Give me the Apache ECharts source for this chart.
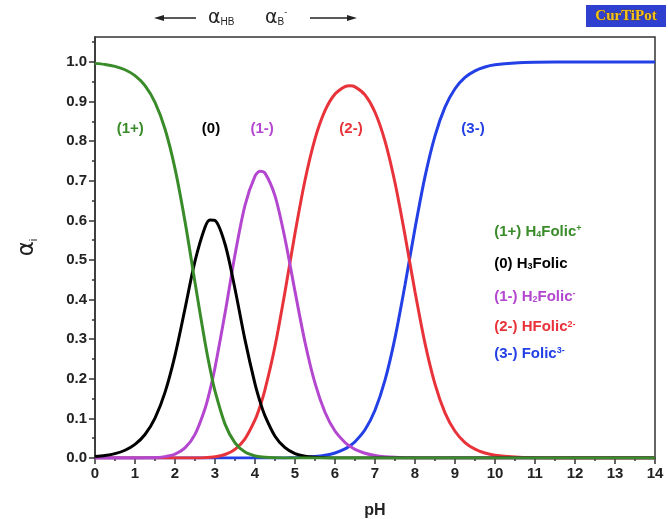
<!DOCTYPE html>
<html>
<head>
<meta charset="utf-8">
<script src="https://cdn.jsdelivr.net/npm/echarts@6/dist/echarts.min.js"></script>
<style>html,body{margin:0;padding:0;background:#fff;}#c{width:668px;height:519px;}</style>
</head>
<body>
<div id="c"></div>
<script>
const pH = [0,0.25,0.5,0.75,1,1.25,1.5,1.75,2,2.25,2.5,2.75,2.875,3,3.25,3.5,3.75,4,4.125,4.25,4.5,4.75,5,5.25,5.5,5.75,6,6.25,6.375,6.5,6.75,7,7.25,7.5,7.75,8,8.25,8.5,8.75,9,9.25,9.5,9.75,10,10.5,11,12,13,14];
const a1plus = [0.9965,0.9937,0.9889,0.9804,0.9656,0.9403,0.8980,0.8307,0.7308,0.5975,
 0.4430,0.2920,0.2259,0.1691,0.0856,0.0380,0.0150,0.0053,0.0030,0.0017,0.0005,0.0001,
 0,0,0,0,0,0,0,0,0,0,0,0,0,0,0,0,0,0,0,0,0,0,0,0,0,0,0];
const a0 = [0.0035,0.0063,0.0111,0.0196,0.0343,0.0593,0.1008,0.1657,0.2593,0.3770,
 0.4970,0.5825,0.6010,0.5998,0.5403,0.4269,0.2984,0.1872,0.1428,0.1064,0.0551,0.0259,
 0.0111,0.0043,0.0016,0.0005,0.0002,0,0,0,0,0,0,0,0,0,0,0,0,0,0,0,0,0,0,0,0,0,0];
const a1minus = [0,0,0,0,0.0001,0.0004,0.0012,0.0035,0.0099,0.0255,
 0.0598,0.1246,0.1713,0.2281,0.3653,0.5132,0.6382,0.7116,0.7239,0.7194,0.6620,0.5537,
 0.4207,0.2924,0.1889,0.1156,0.0681,0.0391,0.0294,0.0220,0.0121,0.0065,0.0033,
 0.0016,0.0007,0.0003,0,0,0,0,0,0,0,0,0,0,0,0,0];
const a2minus = [0,0,0,0,0,0,0,0,0,0.0001,
 0.0003,0.0009,0.0017,0.0031,0.0088,0.0219,0.0484,0.0960,0.1302,0.1725,0.2823,0.4200,
 0.5675,0.7015,0.8060,0.8770,0.9190,0.9378,0.9399,0.9371,0.9168,0.8731,0.8002,
 0.6950,0.5626,0.4200,0.2894,0.1864,0.1141,0.0676,0.0391,0.0224,0.0127,
 0.0072,0.0023,0.0007,0.0001,0,0];
const a3minus = [0,0,0,0,0,0,0,0,0,0,
 0,0,0,0,0,0,0,0,0,0,0.0001,0.0003,
 0.0008,0.0017,0.0035,0.0068,0.0127,0.0230,0.0308,0.0409,0.0712,0.1205,0.1964,
 0.3034,0.4367,0.5797,0.7105,0.8136,0.8859,0.9324,0.9609,0.9776,0.9873,
 0.9928,0.9977,0.9993,0.9999,1,1];
const yMajor = [0,0.1,0.2,0.3,0.4,0.5,0.6,0.7,0.8,0.9,1.0];
const yMinor = [0.05,0.15,0.25,0.35,0.45,0.55,0.65,0.75,0.85,0.95,1.05];

const COL = {g:'#3a8c2a', k:'#000000', p:'#b447cf', r:'#e8333a', b:'#2340e6'};
const FF = '"Liberation Sans", Arial, sans-serif';
const YMAX = 1.0631;

function pairs(ys){ return pH.map((x,i)=>[x, ys[i]]); }
function ser(name, ys, color){
  return {name, type:'line', data:pairs(ys), smooth:0.3, showSymbol:false, symbol:'none',
    lineStyle:{color, width:3}, itemStyle:{color}, z:2};
}

const chart = echarts.init(document.getElementById('c'), null, {renderer:'canvas'});
chart.setOption({
  animation:false,
  backgroundColor:'#fff',
  grid:{left:95, right:13, top:37, bottom:61, containLabel:false, outerBoundsMode:'none', show:true, borderColor:'#333', borderWidth:1.5, backgroundColor:'transparent'},
  xAxis:{type:'value', min:0, max:14, interval:1,
    name:'pH', nameLocation:'middle', nameGap:45,
    nameTextStyle:{fontFamily:FF, fontWeight:'bold', fontSize:16, color:'#222'},
    axisLine:{lineStyle:{color:'#333', width:1.5}},
    axisTick:{length:6, lineStyle:{color:'#333', width:1.5}},
    minorTick:{show:true, splitNumber:2, length:3, lineStyle:{color:'#333', width:1.5}},
    axisLabel:{fontFamily:FF, fontWeight:'bold', fontSize:15, color:'#222', margin:8},
    splitLine:{show:false}},
  yAxis:[{type:'value', min:0, max:YMAX, position:'left',
    name:'{a|α}{s|i}', nameLocation:'middle', nameGap:56,
    nameTextStyle:{rich:{a:{fontFamily:'"DejaVu Sans", sans-serif', fontSize:23, color:'#222'}, s:{fontFamily:FF, fontSize:11, color:'#222', verticalAlign:'bottom', padding:[8,0,0,0]}}},
    axisLine:{show:true, lineStyle:{color:'#333', width:1.5}},
    axisTick:{show:true, length:6, customValues:yMajor, lineStyle:{color:'#333', width:1.5}},
    axisLabel:{customValues:yMajor, fontFamily:FF, fontWeight:'bold', fontSize:15, color:'#222', margin:8, formatter:v=>Number(v).toFixed(1)},
    splitLine:{show:false}},
   {type:'value', min:0, max:YMAX, position:'left', axisLine:{show:false},
    axisTick:{show:true, length:3, customValues:yMinor, lineStyle:{color:'#333', width:1.5}},
    axisLabel:{show:false}, splitLine:{show:false}}],
  series:[
    ser('(3-)', a3minus, COL.b),
    ser('(2-)', a2minus, COL.r),
    ser('(1-)', a1minus, COL.p),
    ser('(0)', a0, COL.k),
    ser('(1+)', a1plus, COL.g)
  ]
});

function px(x,y){ return chart.convertToPixel({gridIndex:0}, [x,y]); }
const labels = [['(1+)',0.88,COL.g],['(0)',2.9,COL.k],['(1-)',4.18,COL.p],['(2-)',6.4,COL.r],['(3-)',9.45,COL.b]];
const g = [];
labels.forEach(([t,x,c])=>{
  const p = px(x,0.83);
  g.push({type:'text', x:p[0], y:p[1], style:{text:t, fill:c, font:'bold 15px '+FF, textAlign:'center', textVerticalAlign:'middle'}});
});
function rich(c){ return {
  t:{fontFamily:FF, fontWeight:'bold', fontSize:15, fill:c},
  sb:{fontFamily:FF, fontWeight:'bold', fontSize:9, fill:c, verticalAlign:'bottom', padding:[6,0,0,0]},
  sp:{fontFamily:FF, fontWeight:'bold', fontSize:9, fill:c, verticalAlign:'top', padding:[0,0,6,0]}
};}
const legend = [
  ['{t|(1+) H}{sb|4}{t|Folic}{sp|+}', COL.g, 0.571],
  ['{t|(0) H}{sb|3}{t|Folic}', COL.k, 0.490],
  ['{t|(1-) H}{sb|2}{t|Folic}{sp|-}', COL.p, 0.408],
  ['{t|(2-) HFolic}{sp|2-}', COL.r, 0.330],
  ['{t|(3-) Folic}{sp|3-}', COL.b, 0.264]
];
legend.forEach(([t,c,y])=>{
  const p = px(9.98,y);
  g.push({type:'text', x:p[0], y:p[1], style:{text:t, fill:c, rich:rich(c), textAlign:'left', textVerticalAlign:'middle'}});
});
// top annotation
g.push({type:'line', shape:{x1:160,y1:18,x2:196,y2:18}, style:{stroke:'#222', lineWidth:1.5}});
g.push({type:'polygon', shape:{points:[[154,18],[164,15],[164,21]]}, style:{fill:'#222'}});
g.push({type:'line', shape:{x1:310,y1:18,x2:350,y2:18}, style:{stroke:'#222', lineWidth:1.5}});
g.push({type:'polygon', shape:{points:[[357,18],[347,15],[347,21]]}, style:{fill:'#222'}});
const arich = {a:{fontFamily:'"DejaVu Sans", sans-serif', fontSize:19, fill:'#222'}, s:{fontFamily:FF, fontSize:10, fill:'#222', verticalAlign:'bottom', padding:[6,0,0,0]}, p:{fontFamily:FF, fontSize:9, fill:'#222', verticalAlign:'top', padding:[0,0,6,0]}};
g.push({type:'text', x:208, y:18, style:{text:'{a|α}{s|HB}', rich:arich, textAlign:'left', textVerticalAlign:'middle'}});
g.push({type:'text', x:265, y:18, style:{text:'{a|α}{s|B}{p|-}', rich:arich, textAlign:'left', textVerticalAlign:'middle'}});
// CurTiPot badge
g.push({type:'rect', shape:{x:586,y:5,width:80,height:22}, style:{fill:'#2f3fd0'}});
g.push({type:'text', x:626, y:16, style:{text:'CurTiPot', fill:'#f4c21c', stroke:'#6b4a00', lineWidth:0.6, font:'bold 15px "Liberation Serif", serif', textAlign:'center', textVerticalAlign:'middle'}});
chart.setOption({graphic:g});
</script>
</body>
</html>
